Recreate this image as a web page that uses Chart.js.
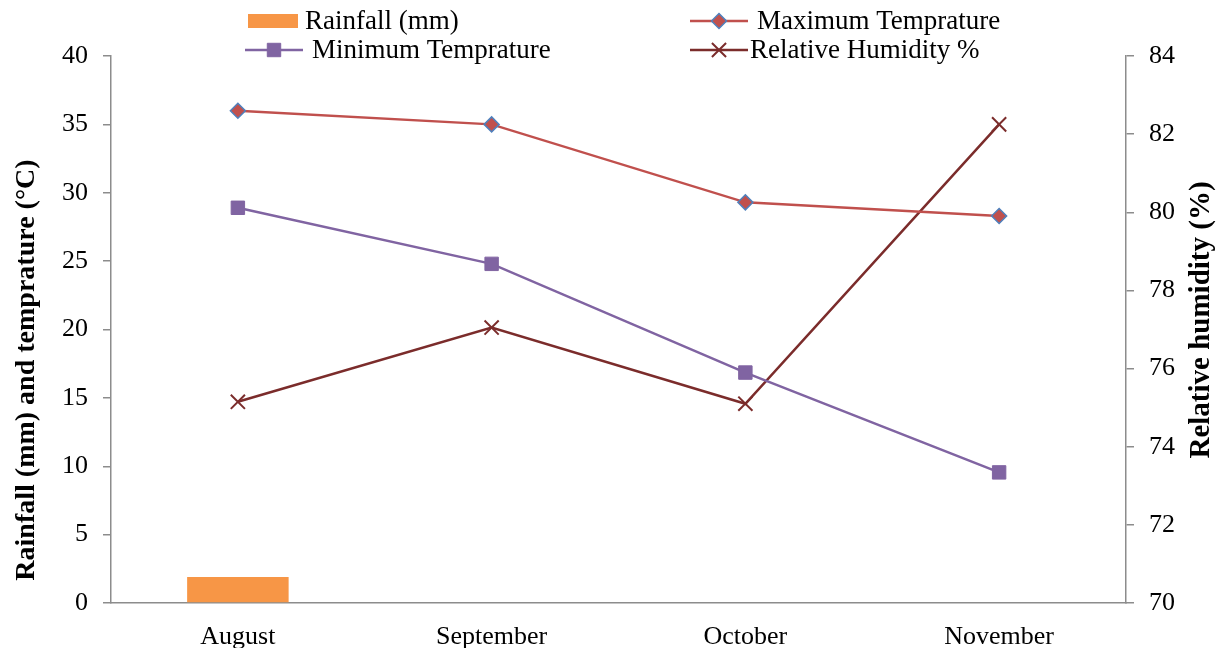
<!DOCTYPE html>
<html>
<head>
<meta charset="utf-8">
<script src="https://cdn.jsdelivr.net/npm/chart.js@4"></script>
<style>
  html, body { margin: 0; padding: 0; background: #ffffff; }
  #wrap { position: relative; width: 1230px; height: 648px; }
</style>
</head>
<body>
<div id="wrap"><canvas id="c" width="1230" height="648"></canvas></div>
<script>
// ---- data ----
const months = ['August', 'September', 'October', 'November'];
const rainfall = [1.9, null, null, null];
const maxTemp = [36.0, 35.0, 29.3, 28.3];
const minTemp = [28.9, 24.8, 16.85, 9.55];
const humidity = [75.15, 77.05, 75.1, 82.25];
const leftTicks = [0, 5, 10, 15, 20, 25, 30, 35, 40];
const rightTicks = [70, 72, 74, 76, 78, 80, 82, 84];
const seriesNames = ['Rainfall (mm)', 'Maximum Temprature', 'Minimum Temprature', 'Relative Humidity %'];
const leftTitle = 'Rainfall (mm) and temprature (\u00B0C)';
const rightTitle = 'Relative humidity (%)';

const SERIF = "'Liberation Serif', 'Times New Roman', serif";
const AXIS_GREY = '#8c8c8c';

// custom legend (2 x 2 grid) and axis titles drawn from the chart data
const legendPlugin = {
  id: 'gridLegend',
  afterDraw(chart) {
    const ctx = chart.ctx;
    const ds = chart.data.datasets;
    const slots = [
      {x: 248, y: 21, text: 305},
      {x: 690, y: 21, text: 757},
      {x: 245, y: 50, text: 312},
      {x: 690, y: 50, text: 750}
    ];
    ctx.save();
    ds.forEach((d, i) => {
      const s = slots[i];
      if (d.type === 'bar') {
        ctx.fillStyle = d.backgroundColor;
        ctx.fillRect(s.x, s.y - 7, 50, 14);
      } else {
        const len = 58;
        ctx.strokeStyle = d.borderColor;
        ctx.lineWidth = d.borderWidth;
        ctx.beginPath();
        ctx.moveTo(s.x, s.y);
        ctx.lineTo(s.x + len, s.y);
        ctx.stroke();
        ctx.fillStyle = d.pointBackgroundColor;
        ctx.strokeStyle = d.pointBorderColor;
        ctx.lineWidth = d.pointBorderWidth;
        Chart.helpers.drawPoint(ctx, {
          pointStyle: d.pointStyle,
          radius: d.pointRadius,
          borderWidth: d.pointBorderWidth,
          rotation: 0
        }, s.x + len / 2, s.y);
      }
      ctx.fillStyle = '#000';
      ctx.font = '27px ' + SERIF;
      ctx.textBaseline = 'middle';
      ctx.textAlign = 'left';
      ctx.fillText(d.label, s.text, s.y + 1);
    });
    ctx.restore();

    // left axis title, reading bottom-to-top
    ctx.save();
    ctx.font = 'bold 28px ' + SERIF;
    ctx.fillStyle = '#000';
    ctx.translate(27, 370);
    ctx.rotate(-Math.PI / 2);
    ctx.textAlign = 'center';
    ctx.textBaseline = 'middle';
    ctx.fillText(leftTitle, 0, 0);
    ctx.restore();

    // right axis title, reading bottom-to-top
    ctx.save();
    ctx.font = 'bold 29px ' + SERIF;
    ctx.fillStyle = '#000';
    ctx.translate(1202, 320);
    ctx.rotate(-Math.PI / 2);
    ctx.textAlign = 'center';
    ctx.textBaseline = 'middle';
    ctx.fillText(rightTitle, 0, 0);
    ctx.restore();
  }
};

new Chart(document.getElementById('c'), {
  data: {
    labels: months,
    datasets: [
      {
        type: 'bar', label: seriesNames[0], data: rainfall, yAxisID: 'y',
        backgroundColor: '#F79646', borderWidth: 0,
        categoryPercentage: 0.8, barPercentage: 0.5, order: 5
      },
      {
        type: 'line', label: seriesNames[1], data: maxTemp, yAxisID: 'y',
        borderColor: '#C0504D', borderWidth: 2.5,
        pointStyle: 'rectRot', pointRadius: 7.5, pointBorderWidth: 1.5,
        pointBackgroundColor: '#C0504D', pointBorderColor: '#4F81BD',
        tension: 0, order: 1
      },
      {
        type: 'line', label: seriesNames[2], data: minTemp, yAxisID: 'y',
        borderColor: '#8064A2', borderWidth: 2.5,
        pointStyle: 'rect', pointRadius: 9.5, pointBorderWidth: 1,
        pointBackgroundColor: '#8064A2', pointBorderColor: '#8064A2',
        tension: 0, order: 2
      },
      {
        type: 'line', label: seriesNames[3], data: humidity, yAxisID: 'y1',
        borderColor: '#7B2C2B', borderWidth: 2.5,
        pointStyle: 'crossRot', pointRadius: 10, pointBorderWidth: 2,
        pointBackgroundColor: '#7B2C2B', pointBorderColor: '#7B2C2B',
        tension: 0, order: 3
      }
    ]
  },
  options: {
    responsive: false,
    animation: false,
    layout: { padding: { top: 56, left: 0, right: 0, bottom: 0 } },
    plugins: { legend: { display: false }, tooltip: { enabled: false } },
    scales: {
      x: {
        offset: true,
        grid: { display: false, drawTicks: false },
        border: { display: true, color: AXIS_GREY, width: 1.5 },
        ticks: { color: '#000', font: { family: SERIF, size: 26 }, padding: 19, maxRotation: 0 },
        afterFit(s) { s.height = 45; }
      },
      y: {
        position: 'left', min: 0, max: 40,
        afterBuildTicks(s) { s.ticks = leftTicks.map(v => ({value: v})); },
        grid: { drawOnChartArea: false, drawTicks: true, tickLength: 8, color: AXIS_GREY, lineWidth: 1.5 },
        border: { display: true, color: AXIS_GREY, width: 1.5 },
        ticks: { color: '#000', font: { family: SERIF, size: 26 }, padding: 15 },
        afterFit(s) { s.width = 111; }
      },
      y1: {
        position: 'right', min: 70, max: 84,
        afterBuildTicks(s) { s.ticks = rightTicks.map(v => ({value: v})); },
        grid: { drawOnChartArea: false, drawTicks: true, tickLength: 8, color: AXIS_GREY, lineWidth: 1.5 },
        border: { display: true, color: AXIS_GREY, width: 1.5 },
        ticks: { color: '#000', font: { family: SERIF, size: 26 }, padding: 15 },
        afterFit(s) { s.width = 104; }
      }
    }
  },
  plugins: [legendPlugin]
});
</script>
</body>
</html>
